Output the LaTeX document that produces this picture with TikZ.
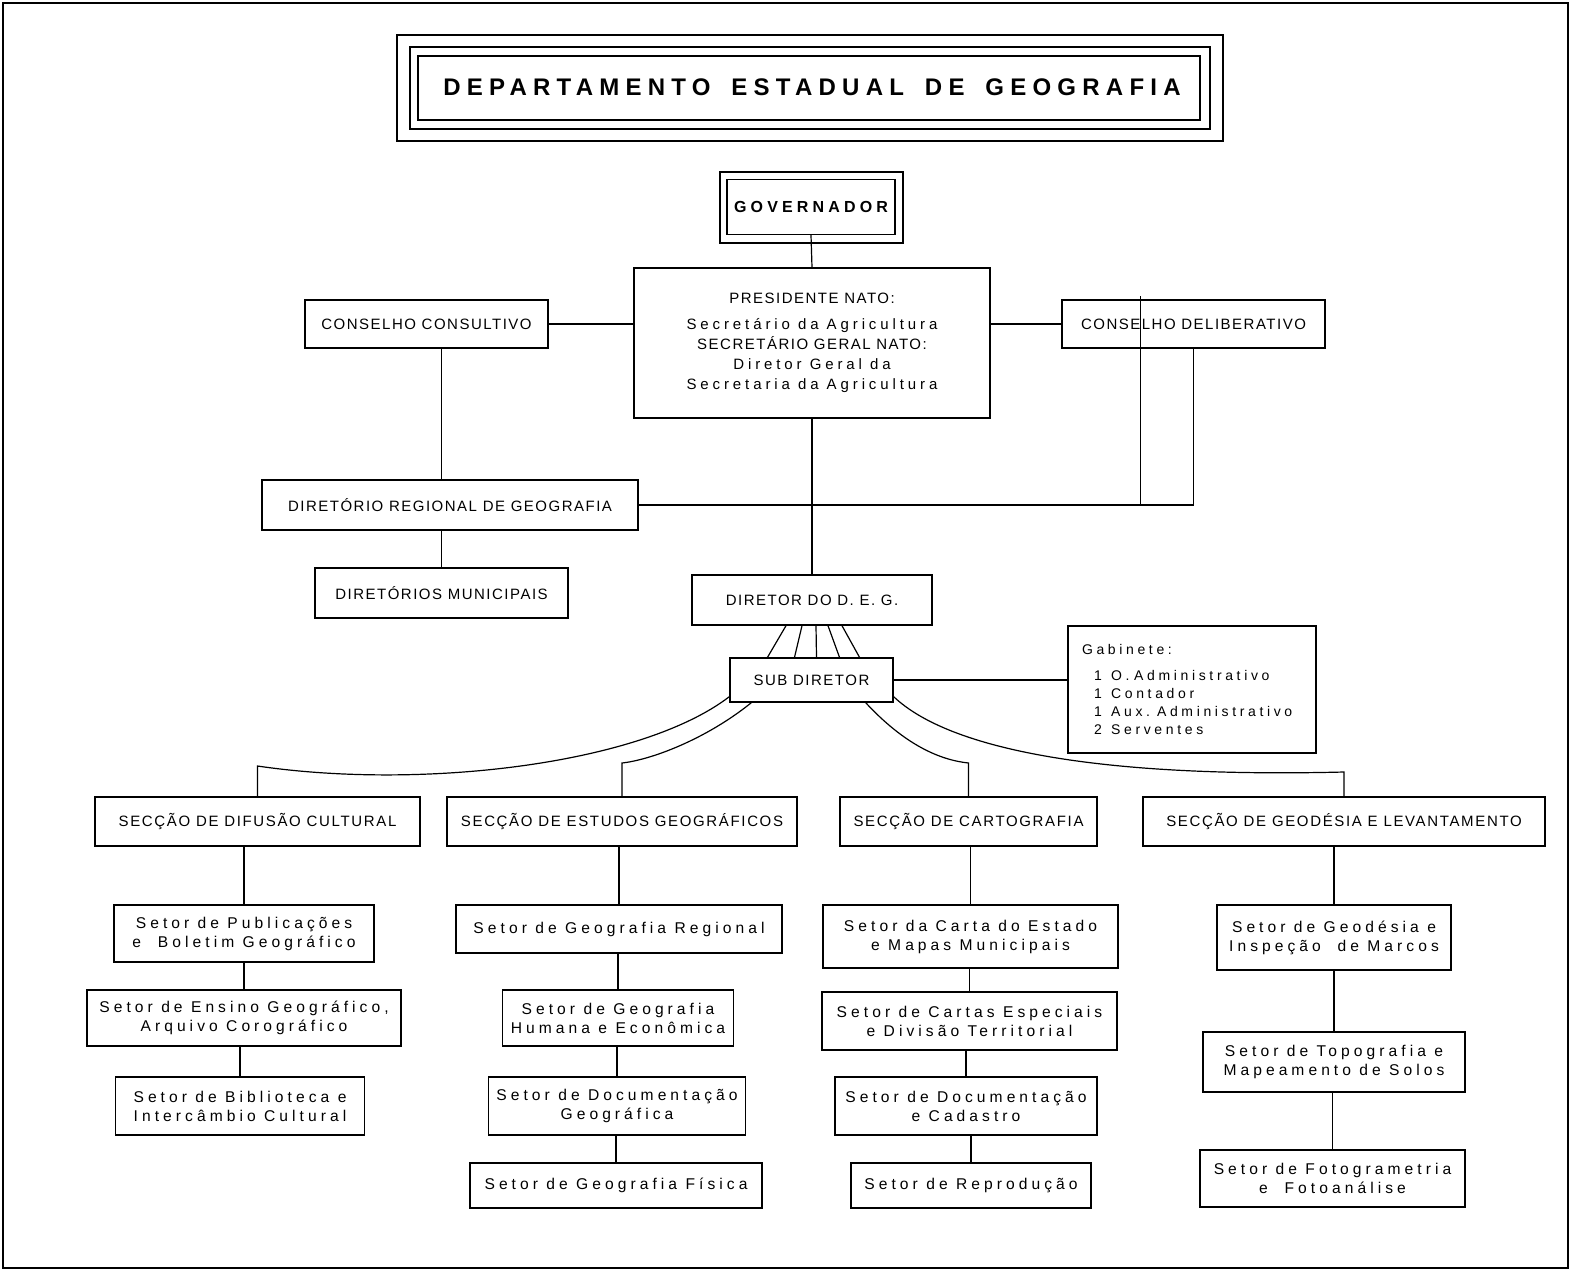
\documentclass[tikz,border=0pt]{standalone}
\usepackage{fontspec}
\usepackage{tikz}
\usetikzlibrary{calc}
\newfontfamily\letreiro[LetterSpace=10]{Liberation Sans}
\newfontfamily\letreiros[LetterSpace=11]{Liberation Sans}
\newfontfamily\letreirob[LetterSpace=26]{Liberation Sans}
\newfontfamily\letreirot[LetterSpace=26]{Liberation Sans}
\tikzset{
  caixa/.style={draw, line width=0.7pt, inner sep=0pt, align=center,
    font=\letreiro\fontsize{7.5}{10}\selectfont},
  secao/.style={caixa, minimum height=24.5pt, font=\letreiros\fontsize{7.5}{10}\selectfont},
  setor/.style={caixa, font=\letreirob\fontsize{7.8}{9.5}\selectfont},
  fio/.style={line width=0.6pt},
}
\begin{document}
\begin{tikzpicture}[x=0.5pt,y=-0.5pt]
\useasboundingbox (0,0) rectangle (1574,1275);
\draw[line width=1pt] (3,3) rectangle (1568,1268);
% titulo
\draw[line width=0.6pt] (397,35) rectangle (1223,141);
\draw[line width=0.6pt] (410,47) rectangle (1210,129);
\draw[line width=1pt] (418,56) rectangle (1200,120);
\node[font=\letreirot\bfseries\fontsize{12}{14}\selectfont] (tit) at (812,87)
  {DEPARTAMENTO\hspace{4pt} ESTADUAL\hspace{4pt} DE\hspace{4pt} GEOGRAFIA};

% topo
\node[caixa, minimum width=84pt, minimum height=27.5pt,
  font=\letreirob\bfseries\fontsize{8}{10}\selectfont] (gov) at (811,207) {GOVERNADOR};
\draw[fio] (720,172) rectangle (903,243);
\node[caixa, minimum width=178pt, minimum height=75pt] (pres) at (812,343)
  {PRESIDENTE NATO:\\[3pt] {\letreirob Secretário da Agricultura}\\
   SECRETÁRIO GERAL NATO:\\ {\letreirob Diretor Geral da}\\
   {\letreirob Secretaria da Agricultura}};
\node[caixa, minimum width=121.5pt, minimum height=24pt] (cons) at (426.5,324) {CONSELHO CONSULTIVO};
\node[caixa, minimum width=131.5pt, minimum height=24pt] (delib) at (1193.5,324) {CONSELHO DELIBERATIVO};
\node[caixa, minimum width=188pt, minimum height=25pt] (reg) at (450,505) {DIRETÓRIO REGIONAL DE GEOGRAFIA};
\node[caixa, minimum width=126.5pt, minimum height=25pt] (mun) at (441.5,593) {DIRETÓRIOS MUNICIPAIS};
\node[caixa, minimum width=120pt, minimum height=25pt] (dir) at (812,600) {DIRETOR DO D. E. G.};
\node[caixa, minimum width=81.5pt, minimum height=22pt] (sub) at (811.5,680) {SUB DIRETOR};
\node[caixa, text width=110pt, minimum height=63.5pt, inner xsep=7pt, align=left,
  font=\letreirob\fontsize{7}{9}\selectfont] (gab) at (1192,689.5)
  {Gabinete:\\[4pt]
   \hspace*{6pt}1\ \ O. Administrativo\\
   \hspace*{6pt}1\ \ Contador\\
   \hspace*{6pt}1\ \ Aux. Administrativo\\
   \hspace*{6pt}2\ \ Serventes};

% seccoes
\node[secao, minimum width=162.5pt] (dif) at (257.5,821.5) {SECÇÃO DE DIFUSÃO CULTURAL};
\node[secao, minimum width=175pt] (est) at (622,821.5) {SECÇÃO DE ESTUDOS GEOGRÁFICOS};
\node[secao, minimum width=128.5pt] (car) at (968.5,821.5) {SECÇÃO DE CARTOGRAFIA};
\node[secao, minimum width=201pt] (geo) at (1344,821.5) {SECÇÃO DE GEODÉSIA E LEVANTAMENTO};

% setores
\node[setor, minimum width=130pt, minimum height=28.5pt] (pub) at (244,933.5) {Setor de Publicações\\e\ \ Boletim Geográfico};
\node[setor, minimum width=157pt, minimum height=28pt] (ens) at (244,1018) {Setor de Ensino Geográfico,\\Arquivo Corográfico};
\node[setor, minimum width=124.5pt, minimum height=29pt] (bib) at (240,1106) {Setor de Biblioteca e\\Intercâmbio Cultural};
\node[setor, minimum width=163pt, minimum height=24pt] (rgn) at (619,929) {Setor de Geografia Regional};
\node[setor, minimum width=115.5pt, minimum height=28pt] (hum) at (618,1018) {Setor de Geografia\\Humana e Econômica};
\node[setor, minimum width=128.5pt, minimum height=29pt] (docg) at (617,1106) {Setor de Documentação\\Geográfica};
\node[setor, minimum width=146pt, minimum height=22.5pt, line width=0.9pt] (fis) at (616,1185.5) {Setor de Geografia Física};
\node[setor, minimum width=147.5pt, minimum height=31.5pt] (carta) at (970.5,936.5) {Setor da Carta do Estado\\e Mapas Municipais};
\node[setor, minimum width=147.5pt, minimum height=29pt] (esp) at (969.5,1021) {Setor de Cartas Especiais\\e Divisão Territorial};
\node[setor, minimum width=131pt, minimum height=29pt] (docc) at (966,1106) {Setor de Documentação\\e Cadastro};
\node[setor, minimum width=120pt, minimum height=22.5pt, line width=0.9pt] (rep) at (971,1185.5) {Setor de Reprodução};
\node[setor, minimum width=117pt, minimum height=32.5pt] (geod) at (1334,937.5) {Setor de Geodésia e\\Inspeção\ \ de Marcos};
\node[setor, minimum width=131pt, minimum height=30pt] (topo) at (1334,1062) {Setor de Topografia e\\Mapeamento de Solos};
\node[setor, minimum width=132.5pt, minimum height=28.5pt, line width=0.9pt] (foto) at (1332.5,1178.5) {Setor de Fotogrametria\\e\ \ Fotoanálise};

% ligacoes
\draw[fio] (gov.south) -- (pres.north);
\draw[fio] (cons.east) -- (cons.east -| pres.west);
\draw[fio] (pres.east |- delib.west) -- (delib.west);
\draw[fio] (pres.south) -- (dir.north);
\draw[fio] (cons.south -| mun.north) -- (reg.north -| mun.north);
\draw[fio] (reg.south -| mun.north) -- (mun.north);
\draw[fio] (reg.east) -- (reg.east -| delib.south) -- (delib.south);
\draw[line width=0.3pt] (1140,296) -- (1140,505);
\foreach \a/\b in {-26/-44,-10/-17,4/5,16/28,30/48}
  \draw[fio] ($(dir.south)+(\a,0)$) -- ($(sub.north)+(\b,0)$);
\draw[fio] (sub.east) -- (sub.east -| gab.west);

\coordinate (k1) at (257.5,766);
\coordinate (k2) at (622,763);
\coordinate (k3) at (968.5,763);
\coordinate (k4) at (1344,772);
\draw[fio] (dif.north) -- (k1) .. controls (420,790) and (640,765) .. ($(sub.south west)+(0,-6)$);
\draw[fio] (est.north) -- (k2) .. controls (650,760) and (705,740) .. ($(sub.south west)+(22,0)$);
\draw[fio] (car.north) -- (k3) .. controls (940,760) and (905,745) .. ($(sub.south east)+(-28,0)$);
\draw[fio] (geo.north) -- (k4) .. controls (1100,778) and (950,750) .. ($(sub.south east)+(0,-6)$);

\foreach \a/\b in {dif/pub,pub/ens,ens/bib,est/rgn,rgn/hum,hum/docg,docg/fis,
  car/carta,carta/esp,esp/docc,docc/rep,geo/geod,geod/topo,topo/foto}
  \draw[fio] (\a.south -| \b.north) -- (\b.north);
\end{tikzpicture}
\end{document}
